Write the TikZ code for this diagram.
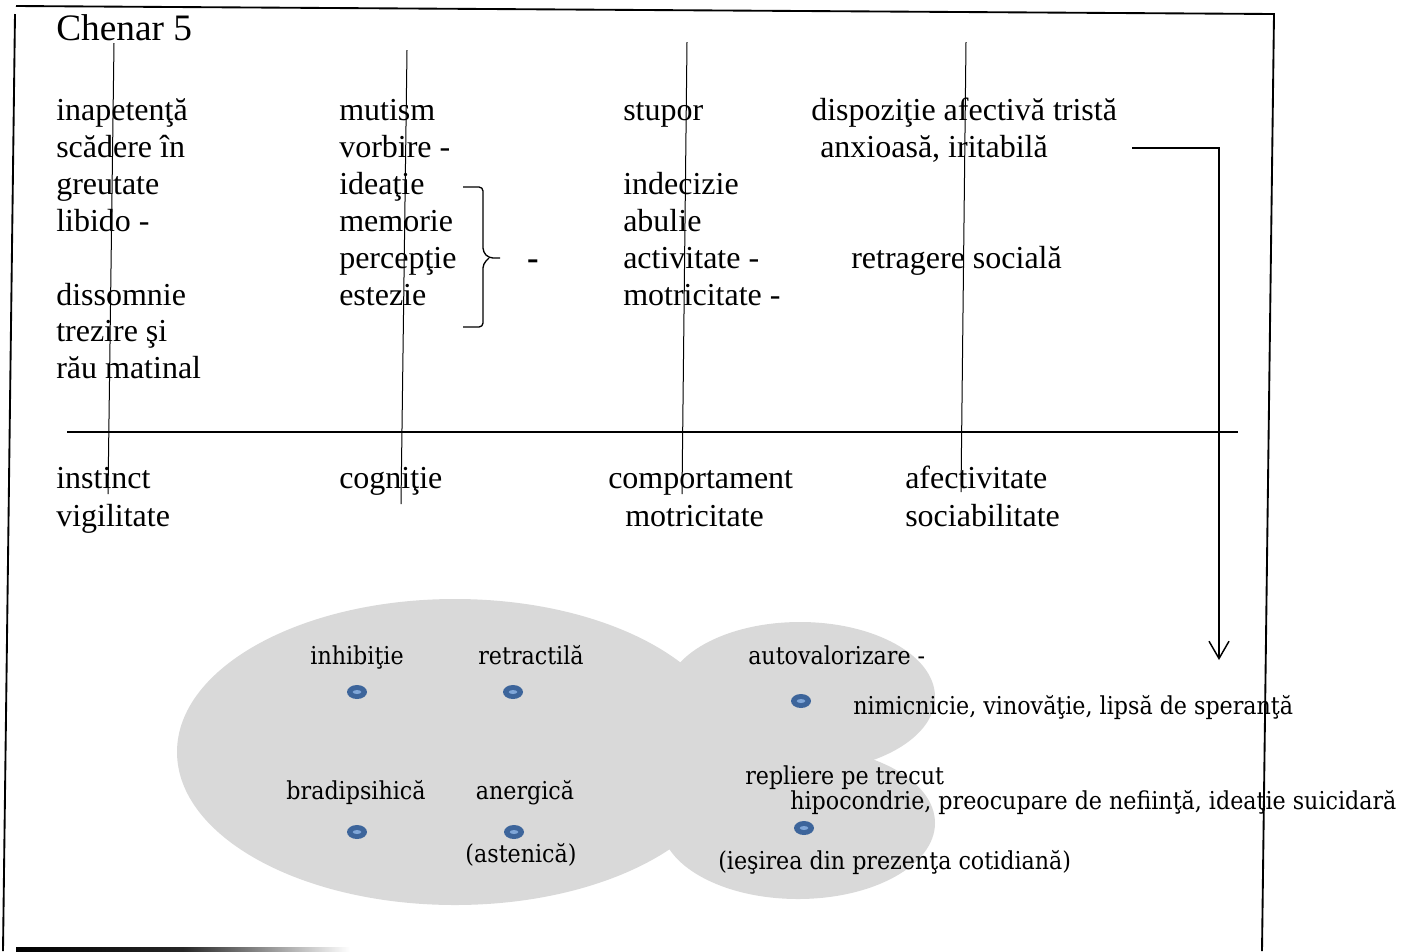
\documentclass[tikz,border=0pt]{standalone}
\usepackage{fontspec}
\setmainfont{Liberation Serif}
\newfontfamily\bubblefont{DejaVu Serif Condensed}
\usetikzlibrary{arrows.meta,shapes.geometric}
\definecolor{bubblegray}{HTML}{D9D9D9}
\definecolor{dotblue}{HTML}{3D659B}
\definecolor{dotlight}{HTML}{7FA6D8}

\begin{document}
\begin{tikzpicture}[x=0.75pt,y=-0.75pt,
  lbl/.style={anchor=base west,inner sep=0pt,font=\fontsize{24}{28}\selectfont},
  title/.style={anchor=base west,inner sep=0pt,font=\fontsize{28}{32}\selectfont},
  blbl/.style={anchor=base,inner sep=0pt,font=\bubblefont\fontsize{18.5}{22}\selectfont},
  blblw/.style={anchor=base west,inner sep=0pt,font=\bubblefont\fontsize{18.5}{22}\selectfont},
  bullet/.style={ellipse,fill=dotblue,minimum width=15pt,minimum height=10.5pt,inner sep=0pt,
    path picture={\fill[dotlight] (path picture bounding box.center) ellipse (3.2pt and 1.5pt);}},
  thin line/.style={line width=0.75pt},
  frame/.style={line width=1.4pt},
  axis/.style={line width=1.2pt}]
\useasboundingbox (0,0) rectangle (1414,951);

% outer frame
\draw[frame] (16,6) -- (1274,14) -- (1262,951);
\draw[frame] (15,14) -- (3,951);
\shade[left color=black,right color=white,middle color=black!85] (16,947) rectangle (350,951);

% title
\node[title] (title) at (56,40) {Chenar 5};

% column 1: instinct, vigilitate
\node[lbl] (c1a) at (56,120) {inapetenţă};
\node[lbl] (c1b) at (56,157) {scădere în};
\node[lbl] (c1c) at (56,194) {greutate};
\node[lbl] (c1d) at (56,231) {libido -};
\node[lbl] (c1e) at (56,305) {dissomnie};
\node[lbl] (c1f) at (56,341) {trezire şi};
\node[lbl] (c1g) at (56,378) {rău matinal};

% column 2: cognition
\node[lbl] (c2a) at (339,120) {mutism};
\node[lbl] (c2b) at (339,157) {vorbire -};
\node[lbl] (c2c) at (339,194) {ideaţie};
\node[lbl] (c2d) at (339,231) {memorie};
\node[lbl] (c2e) at (339,268) {percepţie};
\node[lbl] (c2f) at (339,305) {estezie};
\draw[line width=1pt,rounded corners=3pt] (463,187) -- (483,187) -- (483,252) -- (489,258) -- (500,258);
\draw[line width=1pt,rounded corners=3pt] (489,258) -- (483,264) -- (483,327) -- (463,327);
\node[anchor=center,inner sep=0pt,font=\fontsize{26}{28}\selectfont\bfseries] (dash) at (533,265) {-};

% column 3: behaviour
\node[lbl] (c3a) at (623,120) {stupor};
\node[lbl] (c3b) at (623,194) {indecizie};
\node[lbl] (c3c) at (623,231) {abulie};
\node[lbl] (c3d) at (623,268) {activitate -};
\node[lbl] (c3e) at (623,305) {motricitate -};

% column 4: affect
\node[lbl] (c4a) at (811,120) {dispoziţie afectivă tristă};
\node[lbl] (c4b) at (820,157) {anxioasă, iritabilă};
\node[lbl] (c4c) at (851,268) {retragere socială};

% axis and domain labels
\draw[axis] (67,432) -- (1238,432);
\node[lbl] (d1a) at (56,488) {instinct};
\node[lbl] (d1b) at (56,526) {vigilitate};
\node[lbl] (d2a) at (339,488) {cogniţie};
\node[lbl] (d3a) at (608,488) {comportament};
\node[lbl] (d3b) at (625,526) {motricitate};
\node[lbl] (d4a) at (905,488) {afectivitate};
\node[lbl] (d4b) at (905,526) {sociabilitate};

% column dividers
\draw[thin line] (114,43) -- (108,494);
\draw[thin line] (407,50) -- (401,504);
\draw[thin line] (687,42) -- (682,494);
\draw[thin line] (966,42) -- (961,492);

% arrow from the affect column down to the bubbles
\coordinate (arrS) at (1132,148);
\coordinate (arrC) at (1219,148);
\coordinate (arrE) at (1219,660);
\draw[line width=1.1pt,-{Straight Barb[length=13pt,width=15pt,line width=1.1pt]}] (arrS) -- (arrC) -- (arrE);

% bubbles
\fill[bubblegray] (455,752) ellipse [x radius=278,y radius=153];
\fill[bubblegray] (800,697) ellipse [x radius=135,y radius=75];
\fill[bubblegray] (798,823) ellipse [x radius=137,y radius=76];

\node[blbl] (b1) at (357,664) {inhibiţie};
\node[blbl] (b2) at (531,664) {retractilă};
\node[blbl] (b3) at (356,799) {bradipsihică};
\node[blbl] (b4) at (525,799) {anergică};
\node[blbl] (b5) at (521,862) {(astenică)};
\node[bullet] (p1) at (357,692) {};
\node[bullet] (p2) at (513,692) {};
\node[bullet] (p3) at (357,832) {};
\node[bullet] (p4) at (514,832) {};

\node[blblw] (r1) at (748,664) {autovalorizare -};
\node[bullet] (p5) at (801,701) {};
\node[blblw] (r2) at (853,714) {nimicnicie, vinovăţie, lipsă de speranţă};
\node[blblw] (r3) at (745,784) {repliere pe trecut};
\node[blblw] (r4) at (790,809) {hipocondrie, preocupare de nefiinţă, ideaţie suicidară};
\node[bullet] (p6) at (804,828) {};
\node[blblw] (r5) at (718,869) {(ieşirea din prezenţa cotidiană)};
\end{tikzpicture}
\end{document}
